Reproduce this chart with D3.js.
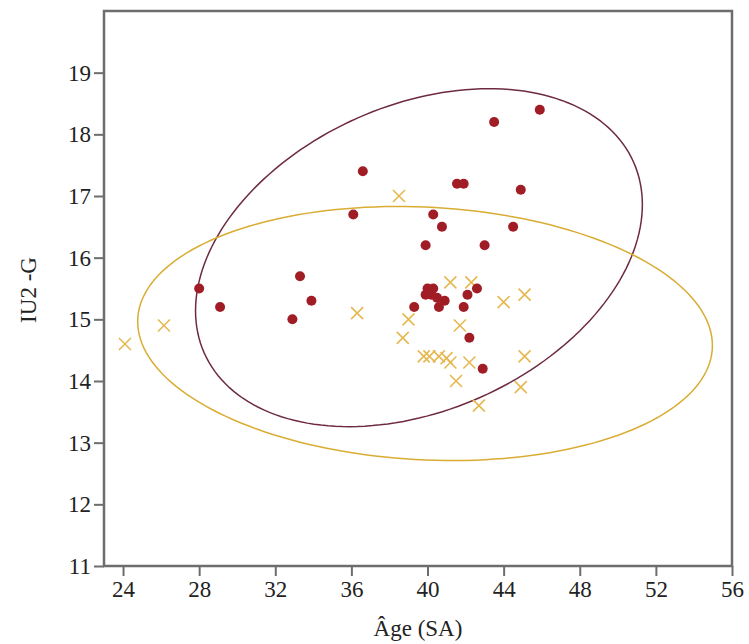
<!DOCTYPE html>
<html>
<head>
<meta charset="utf-8">
<script src="https://cdn.jsdelivr.net/npm/d3@7"></script>
<style>
  body { margin: 0; background: #fff; }
  svg { display: block; }
  text { font-family: "Times New Roman", Times, "Liberation Serif", "Nimbus Roman", serif; fill: #222; }
</style>
</head>
<body>
<svg width="749" height="644"></svg>
<script>
// group 1 : filled dots
var dotAge = [28.0, 29.1, 32.9, 33.3, 33.9, 36.1, 36.6, 43.5, 45.9, 41.55, 41.9, 44.9,
              40.3, 40.76, 44.5, 39.9, 43.0, 40.0, 40.3, 39.9, 40.2, 40.5, 40.9, 40.6,
              39.3, 41.9, 42.1, 42.6, 42.2, 42.9];
var dotIU2 = [15.5, 15.2, 15.0, 15.7, 15.3, 16.7, 17.4, 18.2, 18.4, 17.2, 17.2, 17.1,
              16.7, 16.5, 16.5, 16.2, 16.2, 15.5, 15.5, 15.4, 15.4, 15.35, 15.3, 15.2,
              15.2, 15.2, 15.4, 15.5, 14.7, 14.2];

// group 2 : crosses
var crossAge = [24.1, 26.15, 36.3, 38.5, 39.0, 38.7, 41.2, 42.3, 44.0, 45.1, 41.7,
                39.8, 40.1, 40.6, 41.0, 41.2, 42.2, 45.1, 41.5, 44.9, 42.7];
var crossIU2 = [14.6, 14.9, 15.1, 17.0, 15.0, 14.7, 15.6, 15.6, 15.28, 15.4, 14.9,
                14.4, 14.4, 14.4, 14.37, 14.3, 14.3, 14.4, 14.0, 13.9, 13.6];

// ellipses: centre, half extent along x and y, phase (deg)
var ellCx = [39.55, 39.87];
var ellCy = [16.0, 14.77];
var ellAx = [11.74, 15.1];
var ellAy = [2.74, 2.06];
var ellPhase = [71.7, 95.4];
var ellColor = ["#6e2b3f", "#d9ad34"];

var xTicks = [24, 28, 32, 36, 40, 44, 48, 52, 56];
var yTicks = [11, 12, 13, 14, 15, 16, 17, 18, 19];

var svg = d3.select("svg");

var x = d3.scaleLinear().domain([23, 56]).range([104, 732]);
var y = d3.scaleLinear().domain([11, 20]).range([566, 11]);

// frame
svg.append("rect")
    .attr("x", x(23)).attr("y", y(20))
    .attr("width", x(56) - x(23)).attr("height", y(11) - y(20))
    .attr("fill", "none")
    .attr("stroke", "#6d6d6d")
    .attr("stroke-width", 2.5);

var line = d3.line()
    .x(function(d) { return x(d[0]); })
    .y(function(d) { return y(d[1]); })
    .curve(d3.curveLinearClosed);

ellCx.forEach(function(cx, i) {
    var ph = ellPhase[i] * Math.PI / 180;
    var pts = d3.range(0, 360, 2).map(function(deg) {
        var t = deg * Math.PI / 180;
        return [cx + ellAx[i] * Math.cos(t), ellCy[i] + ellAy[i] * Math.cos(t - ph)];
    });
    svg.append("path")
        .attr("d", line(pts))
        .attr("fill", "none")
        .attr("stroke", ellColor[i])
        .attr("stroke-width", 1.5);
});

// crosses
var cs = 6;
svg.append("g").selectAll("path")
    .data(crossAge)
    .enter().append("path")
    .attr("d", function(d, i) {
        var px = x(d), py = y(crossIU2[i]);
        return "M" + (px - cs) + "," + (py - cs) + "L" + (px + cs) + "," + (py + cs) +
               "M" + (px - cs) + "," + (py + cs) + "L" + (px + cs) + "," + (py - cs);
    })
    .attr("stroke", "#e6b850")
    .attr("stroke-width", 1.6)
    .attr("fill", "none");

// dots
svg.append("g").selectAll("circle")
    .data(dotAge)
    .enter().append("circle")
    .attr("cx", function(d) { return x(d); })
    .attr("cy", function(d, i) { return y(dotIU2[i]); })
    .attr("r", 5)
    .attr("fill", "#a11d26");

// axes
var xAxis = svg.append("g")
    .attr("transform", "translate(0," + y(11) + ")")
    .call(d3.axisBottom(x).tickValues(xTicks).tickSize(10).tickSizeOuter(0).tickPadding(5));
var yAxis = svg.append("g")
    .attr("transform", "translate(" + x(23) + ",0)")
    .call(d3.axisLeft(y).tickValues(yTicks).tickSize(10).tickSizeOuter(0).tickPadding(3));

[xAxis, yAxis].forEach(function(a) {
    a.select(".domain").remove();
    a.selectAll(".tick line").attr("stroke", "#6d6d6d").attr("stroke-width", 2);
    a.selectAll(".tick text")
        .style("font-size", "23px")
        .attr("fill", "#222");
});

svg.append("text")
    .attr("x", 418).attr("y", 636)
    .attr("text-anchor", "middle")
    .style("font-size", "23px")
    .text("Âge (SA)");

svg.append("text")
    .attr("transform", "translate(36,290) rotate(-90)")
    .attr("text-anchor", "middle")
    .style("font-size", "23px")
    .text("IU2 -G");
</script>
</body>
</html>
